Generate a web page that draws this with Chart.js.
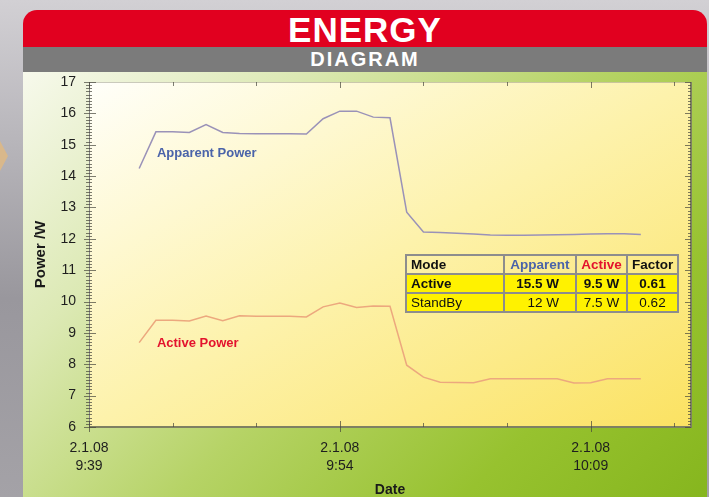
<!DOCTYPE html>
<html>
<head>
<meta charset="utf-8">
<script src="https://cdn.jsdelivr.net/npm/chart.js@4.4.1/dist/chart.umd.min.js"></script>
<style>
  html, body { margin:0; padding:0; }
  body {
    width:709px; height:497px; overflow:hidden; position:relative;
    background: linear-gradient(to bottom, #d2d0d4 0%, #b6b4b9 30%, #99979d 60%, #a4a2a7 100%);
    font-family: "Liberation Sans", Arial, sans-serif;
  }
  #arrow { position:absolute; left:0; top:141px; width:8px; height:30px; background:#d9b88b;
    clip-path: polygon(0 0, 100% 50%, 0 100%); }
  #card { position:absolute; left:23px; top:10px; width:684px; height:487px; overflow:hidden; }
  #head { height:37px; background:#e1001f; border-radius:14px 14px 0 0; color:#fff; text-align:center;
    font-weight:bold; font-size:35px; line-height:39px; letter-spacing:1px; }
  #sub { height:25px; background:#7b7b7b; color:#fff; text-align:center; font-weight:bold;
    font-size:20px; line-height:25px; letter-spacing:2px; }
  #body { position:absolute; top:62px; left:0; right:0; bottom:0;
    background: linear-gradient(135deg, #f7f9ec 0%, #dce9b4 25%, #b6d366 52%, #97c22f 78%, #86b61e 100%); }
  #wrap { position:absolute; left:0; top:0; width:709px; height:497px; }
  #modes { position:absolute; left:405px; top:254px; width:274px; border-collapse:collapse;
    table-layout:fixed; font-size:13.5px; color:#111; }
  #modes th, #modes td { border:2px solid #8d8d8d; height:17px; padding:0 4px; line-height:17px; }
  #modes th { text-align:center; font-weight:bold; }
  #modes tbody td { background:#fff200; text-align:center; }
  #modes .l { text-align:left !important; }
  #modes td.r { text-align:right; padding-right:16px; }
  #modes tr.bold td { font-weight:bold; }
</style>
</head>
<body>
<div id="arrow"></div>
<div id="card">
  <div id="head">ENERGY</div>
  <div id="sub">DIAGRAM</div>
  <div id="body"></div>
</div>
<div id="wrap"><canvas id="chart"></canvas></div>
<table id="modes">
  <colgroup><col style="width:98px"><col style="width:72px"><col style="width:51px"><col style="width:51px"></colgroup>
  <thead><tr><th class="l">Mode</th><th style="color:#4a63a9">Apparent</th><th style="color:#e3122d">Active</th><th>Factor</th></tr></thead>
  <tbody></tbody>
</table>
<script>
// sample times (one reading per minute)
const times = ['9:42','9:43','9:44','9:45','9:46','9:47','9:48','9:49','9:50','9:51','9:52',
  '9:53','9:54','9:55','9:56','9:57','9:58','9:59','10:00','10:01','10:02','10:03','10:04',
  '10:05','10:06','10:07','10:08','10:09','10:10','10:11','10:12'];
const apparentPower = [14.24, 15.41, 15.41, 15.39, 15.64, 15.39, 15.36, 15.35, 15.35, 15.35, 15.34,
  15.83, 16.07, 16.07, 15.88, 15.86, 12.85, 12.22, 12.20, 12.18, 12.15, 12.12, 12.11,
  12.11, 12.12, 12.13, 12.14, 12.15, 12.16, 12.16, 12.14];
const activePower = [8.69, 9.40, 9.40, 9.38, 9.54, 9.39, 9.55, 9.53, 9.53, 9.53, 9.51,
  9.83, 9.95, 9.81, 9.86, 9.85, 7.97, 7.59, 7.43, 7.42, 7.41, 7.54, 7.54,
  7.54, 7.54, 7.54, 7.40, 7.41, 7.54, 7.54, 7.54];
const seriesNames = ['Apparent Power', 'Active Power'];

// axis
const axisStart = '9:39';
const axisEnd = '10:15';
const xTickTimes = ['9:39', '9:54', '10:09'];
const tickDate = '2.1.08';
const yMin = 6, yMax = 17;

// table
const modes = ['Active', 'StandBy'];
const apparentRated = ['15.5 W', '12 W'];
const activeRated = ['9.5 W', '7.5 W'];
const factors = ['0.61', '0.62'];

const tbody = document.querySelector('#modes tbody');
modes.forEach((m, i) => {
  const tr = document.createElement('tr');
  if (i === 0) tr.className = 'bold';
  tr.innerHTML = `<td class="l">${m}</td><td class="r">${apparentRated[i]}</td><td>${activeRated[i]}</td><td>${factors[i]}</td>`;
  tbody.appendChild(tr);
});

const toMin = t => {
  const [h, m] = t.split(':').map(Number);
  const [h0, m0] = axisStart.split(':').map(Number);
  return h * 60 + m - (h0 * 60 + m0);
};

const FONT = "'Liberation Sans', Arial, sans-serif";
Chart.defaults.font.family = FONT;
Chart.defaults.font.size = 14;
Chart.defaults.color = '#1e1e1e';

// plot background, frame, ticks and series names
const frame = {
  id: 'frame',
  beforeDraw(chart) {
    const {ctx, chartArea: a} = chart;
    const w = a.width, h = a.height, k = w * h / (w * w + h * h);
    const cx = a.left + w / 2, cy = a.top + h / 2;
    const g = ctx.createLinearGradient(cx - h * k, cy - w * k, cx + h * k, cy + w * k);
    g.addColorStop(0, '#fffffa');
    g.addColorStop(0.5, '#fdf2ab');
    g.addColorStop(1, '#fbe262');
    ctx.save();
    ctx.fillStyle = g;
    ctx.fillRect(a.left, a.top, w, h);
    ctx.restore();
  },
  afterDatasetsDraw(chart) {
    const {ctx, scales: {x, y}} = chart;
    ctx.save();
    ctx.font = 'bold 13px ' + FONT;
    ctx.textBaseline = 'middle';
    const anchors = [[4, 14.73], [4, 8.67]];
    chart.data.datasets.forEach((ds, i) => {
      ctx.fillStyle = ds.textColor;
      ctx.fillText(ds.label, x.getPixelForValue(anchors[i][0]) + 1, y.getPixelForValue(anchors[i][1]));
    });
    ctx.restore();
  },
  afterDraw(chart) {
    const {ctx, chartArea: a, scales: {x, y}} = chart;
    ctx.save();
    ctx.lineWidth = 1;
    // top line
    ctx.strokeStyle = 'rgba(150,150,130,0.5)';
    ctx.beginPath(); ctx.moveTo(a.left, a.top + 0.5); ctx.lineTo(a.right, a.top + 0.5); ctx.stroke();
    // left axis
    ctx.strokeStyle = '#858585';
    ctx.beginPath(); ctx.moveTo(a.left + 0.5, a.top); ctx.lineTo(a.left + 0.5, a.bottom); ctx.stroke();
    // bottom and right
    ctx.strokeStyle = '#7e8062';
    ctx.lineWidth = 2;
    ctx.beginPath(); ctx.moveTo(a.left, a.bottom); ctx.lineTo(a.right, a.bottom); ctx.lineTo(a.right, a.top); ctx.stroke();
    // y ticks
    ctx.lineWidth = 1;
    ctx.strokeStyle = 'rgba(70,70,60,0.7)';
    ctx.beginPath();
    for (let i = yMin * 10; i <= yMax * 10; i++) {
      const py = Math.round(y.getPixelForValue(i / 10)) + 0.5;
      const major = i % 10 === 0;
      ctx.moveTo(a.left - (major ? 5 : 3), py); ctx.lineTo(a.left + (major ? 7 : 3), py);
      ctx.moveTo(a.right, py); ctx.lineTo(a.right - (major ? 6 : 3), py);
    }
    // x ticks every 5 minutes
    for (let m = 0; m <= toMin(axisEnd); m += 5) {
      const px = Math.round(x.getPixelForValue(m)) + 0.5;
      const major = m % 15 === 0;
      ctx.moveTo(px, a.bottom + (major ? 5 : 0)); ctx.lineTo(px, a.bottom - (major ? 6 : 4));
      ctx.moveTo(px, a.top); ctx.lineTo(px, a.top + (major ? 6 : 4));
    }
    ctx.stroke();
    ctx.restore();
  }
};

new Chart(document.getElementById('chart'), {
  type: 'line',
  data: {
    datasets: [
      {
        label: seriesNames[0],
        data: times.map((t, i) => ({x: toMin(t), y: apparentPower[i]})),
        borderColor: '#9a92b8',
        textColor: '#4a63a9',
        borderWidth: 1.5
      },
      {
        label: seriesNames[1],
        data: times.map((t, i) => ({x: toMin(t), y: activePower[i]})),
        borderColor: '#eca87e',
        textColor: '#e3122d',
        borderWidth: 1.5
      }
    ]
  },
  options: {
    responsive: true,
    maintainAspectRatio: false,
    animation: false,
    devicePixelRatio: 1,
    layout: {padding: {top: 82, right: 18, left: 0, bottom: 0}},
    elements: {point: {radius: 0}, line: {tension: 0}},
    plugins: {legend: {display: false}, tooltip: {enabled: false}},
    scales: {
      x: {
        type: 'linear',
        min: 0,
        max: toMin(axisEnd),
        afterBuildTicks: s => { s.ticks = xTickTimes.map(t => ({value: toMin(t)})); },
        afterFit: s => { s.height = 70; },
        grid: {display: false, drawTicks: false},
        border: {display: false},
        ticks: {
          padding: 12,
          maxRotation: 0,
          autoSkip: false,
          font: {size: 14, lineHeight: 1.3},
          callback: v => [tickDate, xTickTimes[xTickTimes.map(toMin).indexOf(v)]]
        },
        title: {display: true, text: 'Date', font: {size: 14, weight: 'bold', lineHeight: 1}, padding: {top: 0, bottom: 0}, color: '#1a1a1a'}
      },
      y: {
        min: yMin,
        max: yMax,
        afterFit: s => { s.width = 89; },
        grid: {display: false, drawTicks: false},
        border: {display: false},
        ticks: {stepSize: 1, padding: 13, font: {size: 14}},
        title: {display: true, text: 'Power /W', font: {size: 15, weight: 'bold', lineHeight: 1.2}, padding: {top: 32, bottom: 0}, color: '#1a1a1a'}
      }
    }
  },
  plugins: [frame]
});
</script>
</body>
</html>
